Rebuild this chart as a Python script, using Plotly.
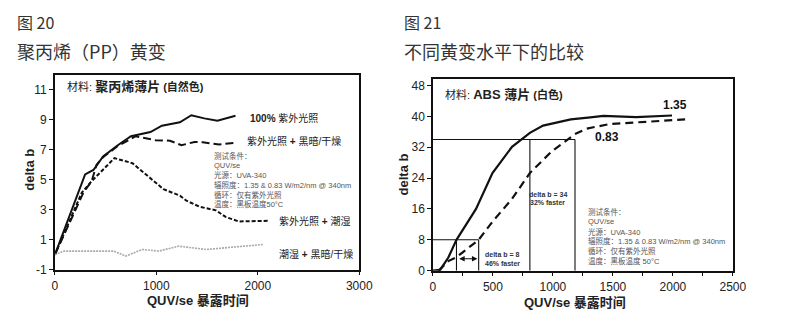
import plotly.graph_objects as go

W, H = 800, 323

# ---- Fig. 20: PP film yellowing (delta b vs QUV/se exposure hours) ----
pp_uv_x = [0, 298, 380, 475, 620, 750, 942, 1055, 1232, 1345, 1473, 1602, 1780]
pp_uv_y = [0, 5.35, 5.65, 6.55, 7.3, 7.9, 8.18, 8.6, 8.83, 9.3, 9.09, 8.94, 9.27]

pp_uvdry_x = [0, 282, 362, 411, 475, 620, 797, 990, 1135, 1248, 1377, 1457, 1618, 1795]
pp_uvdry_y = [0, 4.15, 4.9, 6.0, 6.5, 7.25, 7.9, 7.64, 7.6, 7.3, 7.52, 7.5, 7.35, 7.48]

pp_uvwet_x = [0, 266, 362, 587, 765, 942, 1070, 1232, 1297, 1425, 1587, 1683, 1812, 2101]
pp_uvwet_y = [0, 4.15, 4.9, 6.44, 6.1, 5.1, 4.37, 3.94, 3.6, 3.2, 2.96, 2.52, 2.22, 2.26]

pp_wetdry_x = [0, 89, 580, 700, 862, 1025, 1216, 1393, 1490, 2053]
pp_wetdry_y = [0, 0.24, 0.24, -0.09, 0.35, 0.24, 0.57, 0.4, 0.35, 0.68]

pp_xticks = [0, 1000, 2000, 3000]
pp_yticks = [-1, 1, 3, 5, 7, 9, 11]

# ---- Fig. 21: ABS film at two irradiance levels ----
abs_135_x = [0, 60, 128, 196, 359, 496, 659, 808, 918, 1094, 1149, 1312, 1421, 1694, 1993]
abs_135_y = [0, 0.2, 3.4, 8.0, 16.0, 25.3, 32.1, 35.7, 37.6, 38.8, 39.2, 39.7, 40.1, 39.8, 40.2]

abs_083_x = [46, 128, 196, 381, 496, 659, 808, 986, 1184, 1280, 1475, 1802, 2102]
abs_083_y = [0, 2.5, 3.5, 8.0, 12.7, 18.6, 25.3, 30.8, 35.4, 36.8, 38.0, 38.6, 39.2]

# delta b reference levels and the exposure times reached at each irradiance
ref_levels = [8, 34]
ref_x_135 = [196, 808]
ref_x_083 = [381, 1184]
ref_notes = ["46% faster", "32% faster"]

abs_xticks = [0, 500, 1000, 1500, 2000, 2500]
abs_yticks = [0, 8, 16, 24, 32, 40, 48]

LAT = "Liberation Sans, Arial, Noto Sans CJK SC, sans-serif"
CJK = "Noto Sans CJK SC, Liberation Sans, sans-serif"


def px(x):
    return x / W


def py(y):
    return 1 - y / H


fig = go.Figure()

# left panel curves
fig.add_trace(go.Scatter(x=pp_uv_x, y=pp_uv_y, mode="lines",
                         line=dict(color="#111", width=2), xaxis="x", yaxis="y"))
fig.add_trace(go.Scatter(x=pp_uvdry_x, y=pp_uvdry_y, mode="lines",
                         line=dict(color="#111", width=2, dash="8px,4px"), xaxis="x", yaxis="y"))
fig.add_trace(go.Scatter(x=pp_uvwet_x, y=pp_uvwet_y, mode="lines",
                         line=dict(color="#111", width=2, dash="4px,2px"), xaxis="x", yaxis="y"))
fig.add_trace(go.Scatter(x=pp_wetdry_x, y=pp_wetdry_y, mode="lines",
                         line=dict(color="#aaaaaa", width=1.6, dash="2px,1px"), xaxis="x", yaxis="y"))

# right panel reference lines (horizontal to the slower curve, verticals down to zero)
ref_lx, ref_ly = [], []
for lvl, a, b in zip(ref_levels, ref_x_135, ref_x_083):
    ref_lx += [0, b, None, a, a, None, b, b, None]
    ref_ly += [lvl, lvl, None, 0, lvl, None, 0, lvl, None]
fig.add_trace(go.Scatter(x=ref_lx, y=ref_ly, mode="lines",
                         line=dict(color="#111", width=1.1), xaxis="x2", yaxis="y2"))

fig.add_trace(go.Scatter(x=abs_135_x, y=abs_135_y, mode="lines",
                         line=dict(color="#111", width=2.2), xaxis="x2", yaxis="y2"))
fig.add_trace(go.Scatter(x=abs_083_x, y=abs_083_y, mode="lines",
                         line=dict(color="#111", width=2.2, dash="8px,5px"), xaxis="x2", yaxis="y2"))

axis_common = dict(showline=True, linecolor="#111", linewidth=1.5, mirror=True,
                   ticks="outside", ticklen=4, tickcolor="#111", tickwidth=1,
                   showgrid=False, zeroline=False,
                   tickfont=dict(family=LAT, size=12, color="#222"))

fig.update_layout(
    width=W, height=H,
    margin=dict(l=0, r=0, t=0, b=0),
    paper_bgcolor="white", plot_bgcolor="white",
    showlegend=False,
    xaxis=dict(domain=[px(53), px(364)], range=[0, 3000], tickvals=pp_xticks,
               ticktext=[str(v) for v in pp_xticks], anchor="y", **axis_common),
    yaxis=dict(domain=[py(275.7), py(77)], range=[-1, 11.96], tickvals=pp_yticks,
               ticktext=[str(v) for v in pp_yticks], anchor="x", **axis_common),
    xaxis2=dict(domain=[px(439.3), px(745.7)], range=[0, 2500], tickvals=abs_xticks,
                ticktext=[str(v) for v in abs_xticks],
                minor=dict(ticks="outside", dtick=250, ticklen=4, tickcolor="#111"),
                anchor="y2", **axis_common),
    yaxis2=dict(domain=[py(276.7), py(81)], range=[0, 49.6], tickvals=abs_yticks,
                ticktext=[str(v) for v in abs_yticks], anchor="x2", **axis_common),
)

ann = []


def text(x, y, s, size, family=CJK, color="#222", xanchor="left", textangle=0):
    ann.append(dict(x=px(x), y=py(y), xref="paper", yref="paper", text=s,
                    showarrow=False, xanchor=xanchor, yanchor="middle",
                    font=dict(family=family, size=size, color=color),
                    textangle=textangle))


# figure headings
text(12, 22, "图 20", 16, color="#333")
text(12, 52, "聚丙烯（PP）黄变", 18, color="#333")
text(408, 22, "图 21", 16, color="#333")
text(408, 52, "不同黄变水平下的比较", 18, color="#333")

# axis titles
text(199, 307, "<b>QUV/se 暴露时间</b>", 13, family=LAT, color="#222", xanchor="center")
text(584, 309, "<b>QUV/se 暴露时间</b>", 13, family=LAT, color="#222", xanchor="center")
text(27, 173, "<b>delta b</b>", 13, family=LAT, color="#222", xanchor="center", textangle=-90)
text(409, 178, "<b>delta b</b>", 13, family=LAT, color="#222", xanchor="center", textangle=-90)

# material captions
text(63, 88, "材料: <b><span style='font-size:13px'>聚丙烯薄片</span></b> <b>(自然色)</b>", 11,
     family=LAT, color="#222")
text(450, 97, "材料: <b><span style='font-size:13px'>ABS 薄片</span></b> <b>(白色)</b>", 11,
     family=LAT, color="#222")

# left panel series labels
text(250, 121, "<b>100%</b> 紫外光照", 10, family=LAT)
text(247, 144, "紫外光照 <b>+</b> 黑暗/干燥", 10, family=LAT)
text(280, 226, "紫外光照 <b>+</b> 潮湿", 10, family=LAT)
text(280, 260, "潮湿 <b>+</b> 黑暗/干燥", 10, family=LAT)

# test conditions
cond_left = ["测试条件：", "QUV/se", "光源：UVA-340", "辐照度：1.35 & 0.83 W/m2/nm @ 340nm",
             "循环：仅有紫外光照", "温度：黑板温度50°C"]
cond_right = ["测试条件：", "QUV/se", "光源：UVA-340", "辐照度：1.35 & 0.83 W/m2/nm @ 340nm",
              "循环：仅有紫外光照", "温度：黑板温度 50°C"]
for i, line in enumerate(cond_left):
    text(214, 159 + i * 10, line, 7.5, family=LAT, color="#555")
for i, line in enumerate(cond_right):
    text(596, 216.7 + i * 10, line, 7.5, family=LAT, color="#555")

# irradiance labels on the right panel
text(672, 107, "<b>1.35</b>", 12, family=LAT, color="#111")
text(603, 140, "<b>0.83</b>", 12, family=LAT, color="#111")

# reference-level notes
note_pos = [(510, 260), (556.7, 198.3)]
for lvl, note, (nx, ny) in zip(ref_levels, ref_notes, note_pos):
    text(nx, ny, f"<b>delta b = {lvl}</b>", 7, family=LAT, color="#333", xanchor="center")
    text(nx, ny + 9, f"<b>{note}</b>", 7, family=LAT, color="#333", xanchor="center")

# double-headed arrow spanning the delta b = 8 gap
ann.append(dict(x=ref_x_083[0] - 10, y=3.1, ax=ref_x_135[0] + 10, ay=3.1,
                xref="x2", yref="y2", axref="x2", ayref="y2", text="",
                showarrow=True, arrowhead=2, arrowside="end+start",
                arrowsize=1, arrowwidth=1.1, arrowcolor="#111"))

fig.update_layout(annotations=ann)
fig.write_html("out.html")
